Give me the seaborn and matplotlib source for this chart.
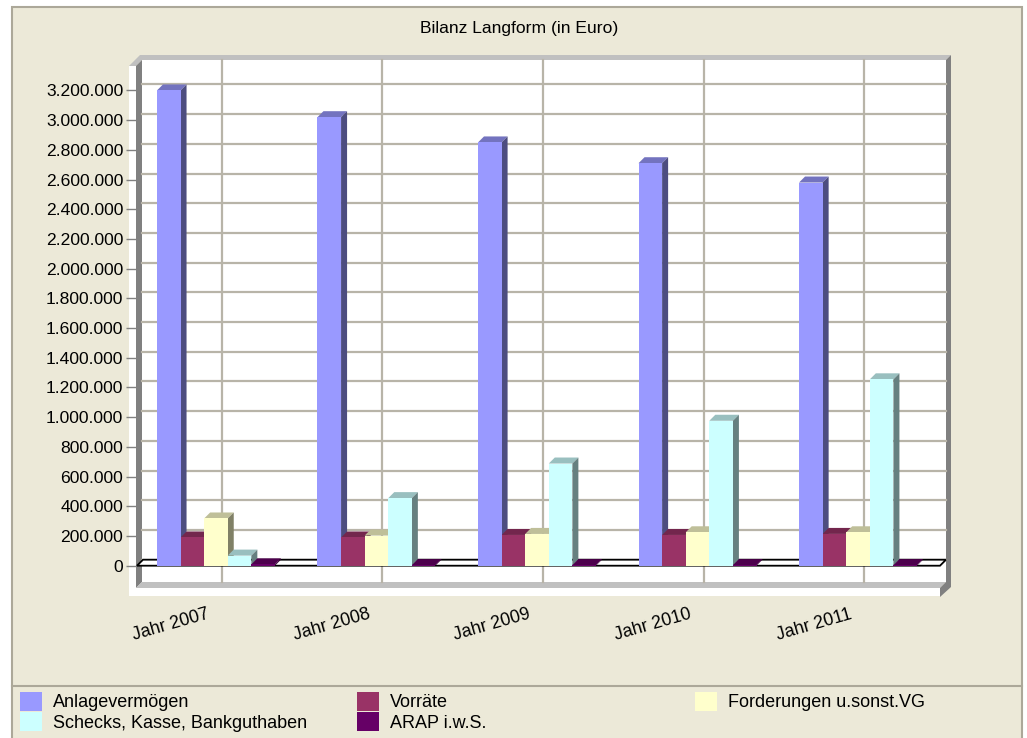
import numpy as np
import pandas as pd
import matplotlib
matplotlib.use("Agg")
import matplotlib.pyplot as plt
import seaborn as sns
from matplotlib.patches import Polygon, Rectangle
from matplotlib.lines import Line2D
from matplotlib.transforms import Affine2D, ScaledTranslation, IdentityTransform, blended_transform_factory
from matplotlib.ticker import FuncFormatter

# ---------------- data ----------------
jahre = ["Jahr 2007", "Jahr 2008", "Jahr 2009", "Jahr 2010", "Jahr 2011"]
positionen = ["Anlagevermögen", "Vorräte", "Forderungen u.sonst.VG",
              "Schecks, Kasse, Bankguthaben", "ARAP i.w.S."]
anlagevermoegen = [3200000, 3020000, 2850000, 2710000, 2580000]
vorraete = [190000, 190000, 207000, 207000, 214000]
forderungen = [318000, 203000, 214000, 225000, 225000]
schecks = [68000, 455000, 688000, 976000, 1255000]
arap = [9000, 4000, 4000, 4000, 4000]
farben = ["#9999FF", "#993366", "#FFFFCC", "#CCFFFF", "#660066"]
y_ticks = list(range(0, 3200001, 200000))
titel = "Bilanz Langform (in Euro)"

serien = [anlagevermoegen, vorraete, forderungen, schecks, arap]
rows = []
for j, jahr in enumerate(jahre):
    for p, werte in zip(positionen, serien):
        rows.append({"Jahr": jahr, "Position": p, "Wert": werte[j]})
df = pd.DataFrame(rows)

# ---------------- figure ----------------
plt.rcParams["font.family"] = ["Liberation Sans", "DejaVu Sans"]
W, H = 1027, 738
fig = plt.figure(figsize=(W / 100, H / 100), dpi=100, facecolor="white")
pixT = Affine2D().scale(1, -1).translate(0, H)  # pixel coords, y from top


def deco(points, color, z, **kw):
    p = Polygon(points, closed=True, facecolor=color, edgecolor=kw.pop("ec", "none"),
                transform=pixT, zorder=z, **kw)
    fig.add_artist(p)


beige = "#ECE9D8"
border = "#ACA899"
deco([(12, 7), (1022, 7), (1022, 745), (12, 745)], beige, -5, ec=border, linewidth=1.5)
fig.add_artist(Line2D([12, 1022], [686, 686], color=border, lw=1.5, transform=pixT, zorder=-4))
# chart box (pseudo 3D walls)
deco([(129, 66), (940, 66), (940, 596), (129, 596)], "white", -4)
deco([(129, 66), (140, 55), (951, 55), (946, 60), (142, 60), (136, 66)], "#C0C0C0", -3)
deco([(142, 60), (946, 60), (946, 582), (142, 582)], "white", -3)
deco([(136, 66), (142, 60), (142, 582), (136, 588)], "#808080", -3)
deco([(136, 588), (142, 582), (946, 582), (940, 588)], "#C0C0C0", -3)
deco([(946, 60), (951, 55), (951, 587), (940, 597), (940, 588), (946, 582)], "#808080", -3)

ax = fig.add_axes([136 / W, 1 - 590 / H, 810 / W, 534 / H])
ax.set_facecolor("none")
for s in ax.spines.values():
    s.set_visible(False)

sns.barplot(data=df, x="Jahr", y="Wert", hue="Position", order=jahre,
            hue_order=positionen, palette=farben, width=0.735, saturation=1,
            linewidth=0, legend=False, ax=ax)

ax.set_xlim(-0.498, 4.548)
ax.set_ylim(-163600, 3432000)
ax.set_xlabel("")
ax.set_ylabel("")

# ticks
ax.set_yticks(y_ticks)
ax.yaxis.set_major_formatter(FuncFormatter(lambda v, p: f"{v:,.0f}".replace(",", ".")))
ax.tick_params(axis="y", length=7, width=1, color="#808080", pad=2.2, labelsize=12.6,
               labelcolor="black")
ax.tick_params(axis="x", length=0, pad=11.5, labelsize=12.8, labelcolor="black")
shift = ScaledTranslation(-0.09, 0, fig.dpi_scale_trans)
for lab in ax.get_xticklabels():
    lab.set_rotation(16)
    lab.set_ha("right")
    lab.set_va("top")
    lab.set_rotation_mode("anchor")
    lab.set_transform(lab.get_transform() + shift)

# back-wall gridlines (offset into depth)
depth = ScaledTranslation(0.06, 0.06, fig.dpi_scale_trans)
grid_c = "#B8B4A8"
tr_h = blended_transform_factory(ax.transAxes, ax.transData) + depth
for v in y_ticks:
    ax.add_line(Line2D([0, 0.9926], [v, v], transform=tr_h, color=grid_c, lw=1.6,
                       zorder=1, clip_on=False))
tr_v = blended_transform_factory(ax.transData, ax.transAxes) + depth
for i in range(len(jahre)):
    ax.add_line(Line2D([i, i], [0.00375, 0.9813], transform=tr_v, color=grid_c, lw=1.6,
                       zorder=1, clip_on=False))

# zero plane
fig.canvas.draw()
d = 6
x_left = ax.transAxes.transform((0, 0))[0]
x_right = ax.transAxes.transform((1, 0))[0]
y0 = ax.transData.transform((0, 0))[1]
zero = Polygon([(x_left + 1, y0), (x_right - 6, y0), (x_right, y0 + d), (x_left + 7, y0 + d)],
               closed=True, facecolor="white", edgecolor="black", lw=1.3,
               transform=IdentityTransform(), zorder=1.5, clip_on=False)
ax.add_patch(zero)

# 3D faces for the bars
bars = [p for p in ax.patches if isinstance(p, Rectangle)]
for b in bars:
    bx, bw, bh = b.get_x(), b.get_width(), b.get_height()
    fc = np.array(matplotlib.colors.to_rgb(b.get_facecolor()))
    z = 2 + bx * 0.01
    b.set_zorder(z + 0.002)
    (x0, yb) = ax.transData.transform((bx, 0))
    (x1, yt) = ax.transData.transform((bx + bw, bh))
    top = Polygon([(x0, yt), (x1, yt), (x1 + d, yt + d), (x0 + d, yt + d)], closed=True,
                  facecolor=fc * 0.75, edgecolor="none", transform=IdentityTransform(),
                  zorder=z, clip_on=False)
    side = Polygon([(x1, yb), (x1 + d, yb + d), (x1 + d, yt + d), (x1, yt)], closed=True,
                   facecolor=fc * 0.5, edgecolor="none", transform=IdentityTransform(),
                   zorder=z + 0.001, clip_on=False)
    ax.add_patch(top)
    ax.add_patch(side)

# title
fig.text(519 / W, 1 - 28 / H, titel, ha="center", va="center", fontsize=12.6, color="black")

# legends (three columns, filled row-wise)
gruppen = [[0, 3], [1, 4], [2]]
spalten_x = [20, 357, 695]
for grp, xp in zip(gruppen, spalten_x):
    handles = [Rectangle((0, 0), 1, 1, facecolor=farben[i], edgecolor="none") for i in grp]
    labels = [positionen[i] for i in grp]
    fig.legend(handles, labels, loc="upper left", bbox_to_anchor=(xp / W, 1 - 692 / H),
               frameon=False, borderpad=0, borderaxespad=0, handlelength=22 / 18,
               handleheight=22 / 18, handletextpad=0.6, labelspacing=0.05, fontsize=13)

fig.savefig("out.png", dpi=100, facecolor=fig.get_facecolor())
